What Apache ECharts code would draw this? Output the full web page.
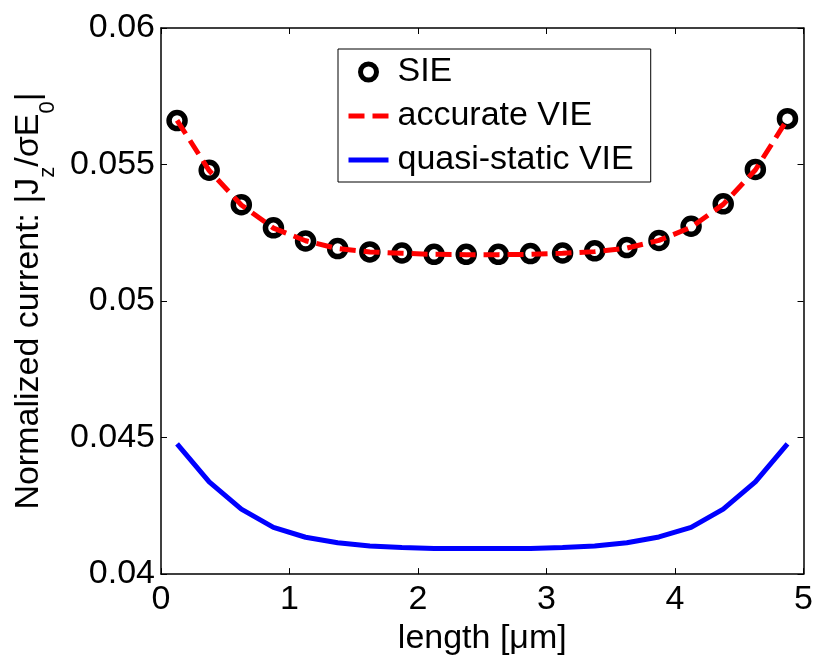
<!DOCTYPE html>
<html>
<head>
<meta charset="utf-8">
<script src="https://cdn.jsdelivr.net/npm/echarts@6/dist/echarts.min.js"></script>
<style>html,body{margin:0;padding:0;background:#fff}#c{width:816px;height:661px}</style>
</head>
<body>
<div id="c"></div>
<script>
// Data
var lengthUm = [0.125, 0.375, 0.625, 0.875, 1.125, 1.375, 1.625, 1.875, 2.125, 2.375,
                2.625, 2.875, 3.125, 3.375, 3.625, 3.875, 4.125, 4.375, 4.625, 4.875];
var sieValues = [0.05661, 0.05479, 0.05353, 0.05268, 0.05220, 0.05192, 0.05180, 0.05176, 0.05171, 0.05171,
                 0.05171, 0.05174, 0.05176, 0.05184, 0.05196, 0.05222, 0.05274, 0.05356, 0.05482, 0.05668];
var accurateVIE = [0.05662, 0.05478, 0.05352, 0.05267, 0.05221, 0.05192, 0.05180, 0.05175, 0.05171, 0.05170,
                   0.05170, 0.05171, 0.05175, 0.05181, 0.05194, 0.05222, 0.05270, 0.05354, 0.05480, 0.05666];
var quasiStaticVIE = [0.04477, 0.04338, 0.04238, 0.04171, 0.04135, 0.04115, 0.04103, 0.04097, 0.04094, 0.04094,
                      0.04094, 0.04094, 0.04097, 0.04103, 0.04115, 0.04136, 0.04171, 0.04238, 0.04338, 0.04477];
var seriesNames = ['SIE', 'accurate VIE', 'quasi-static VIE'];
var xTicks = {min: 0, max: 5, interval: 1};
var yTicks = {min: 0.04, max: 0.06, interval: 0.005};

function pairs(xs, ys) { return xs.map(function (x, i) { return [x, ys[i]]; }); }

var FONT = '"Liberation Sans", Arial, sans-serif';
var chart = echarts.init(document.getElementById('c'), null, {renderer: 'canvas'});
var frameLine = {show: true, onZero: false, lineStyle: {color: '#000', width: 1.5}};
var tickIn = {show: true, inside: true, length: 6, lineStyle: {color: '#000', width: 1}};
var hiddenSymbol = {color: 'rgba(0,0,0,0)', borderColor: 'rgba(0,0,0,0)', borderWidth: 0, opacity: 0};
var redLine = {color: '#ff0000', width: 5, type: [16, 8]};
var blueLine = {color: '#0000ff', width: 5, type: 'solid'};

chart.setOption({
  animation: false,
  backgroundColor: '#fff',
  grid: {left: 161, right: 8, top: 28, bottom: 81, containLabel: false},
  legend: {
    orient: 'vertical',
    left: 338, top: 49,
    padding: [5, 17, 4, 8],
    itemGap: 8,
    itemWidth: 40, itemHeight: 16,
    borderColor: '#000', borderWidth: 1, backgroundColor: '#fff',
    textStyle: {fontSize: 34, color: '#000', fontFamily: FONT, lineHeight: 36, padding: [0, 0, 0, 4]},
    data: [
      {name: seriesNames[0], itemStyle: {color: 'rgba(255,255,255,0)', borderColor: '#000', borderWidth: 5, opacity: 1}},
      {name: seriesNames[1], itemStyle: hiddenSymbol, lineStyle: redLine},
      {name: seriesNames[2], itemStyle: hiddenSymbol, lineStyle: blueLine}
    ]
  },
  xAxis: [{
    type: 'value', position: 'bottom',
    min: xTicks.min, max: xTicks.max, interval: xTicks.interval,
    name: 'length [μm]', nameLocation: 'middle', nameGap: 42,
    nameTextStyle: {fontSize: 34, color: '#000', fontFamily: FONT},
    axisLine: frameLine, axisTick: tickIn,
    axisLabel: {fontSize: 34, color: '#000', fontFamily: FONT, margin: 9},
    splitLine: {show: false}
  }, {
    type: 'value', position: 'top',
    min: xTicks.min, max: xTicks.max, interval: xTicks.interval,
    axisLine: frameLine, axisTick: tickIn, axisLabel: {show: false}, splitLine: {show: false}
  }],
  yAxis: [{
    type: 'value', position: 'left',
    min: yTicks.min, max: yTicks.max, interval: yTicks.interval,
    name: '{n|Normalized current: |J}{s|z}{n|/σE}{s|0}{n||}',
    nameLocation: 'middle', nameGap: 102, nameRotate: 90,
    nameTextStyle: {
      fontSize: 34, color: '#000', fontFamily: FONT,
      rich: {
        n: {fontSize: 34, color: '#000', fontFamily: FONT, lineHeight: 61},
        s: {fontSize: 22, color: '#000', fontFamily: FONT, lineHeight: 23, verticalAlign: 'bottom'}
      }
    },
    axisLine: frameLine, axisTick: tickIn,
    axisLabel: {fontSize: 34, color: '#000', fontFamily: FONT, margin: 6},
    splitLine: {show: false}
  }, {
    type: 'value', position: 'right',
    min: yTicks.min, max: yTicks.max, interval: yTicks.interval,
    axisLine: frameLine, axisTick: tickIn, axisLabel: {show: false}, splitLine: {show: false}
  }],
  series: [{
    name: seriesNames[0], type: 'scatter', z: 2,
    symbol: 'circle', symbolSize: 16,
    itemStyle: {color: 'rgba(255,255,255,0)', borderColor: '#000', borderWidth: 5.5, opacity: 1},
    data: pairs(lengthUm, sieValues)
  }, {
    name: seriesNames[1], type: 'line', z: 3,
    symbol: 'none', showSymbol: false,
    lineStyle: redLine,
    itemStyle: {color: '#ff0000'},
    data: pairs(lengthUm, accurateVIE)
  }, {
    name: seriesNames[2], type: 'line', z: 3,
    symbol: 'none', showSymbol: false,
    lineStyle: blueLine,
    itemStyle: {color: '#0000ff'},
    data: pairs(lengthUm, quasiStaticVIE)
  }]
});
</script>
</body>
</html>
